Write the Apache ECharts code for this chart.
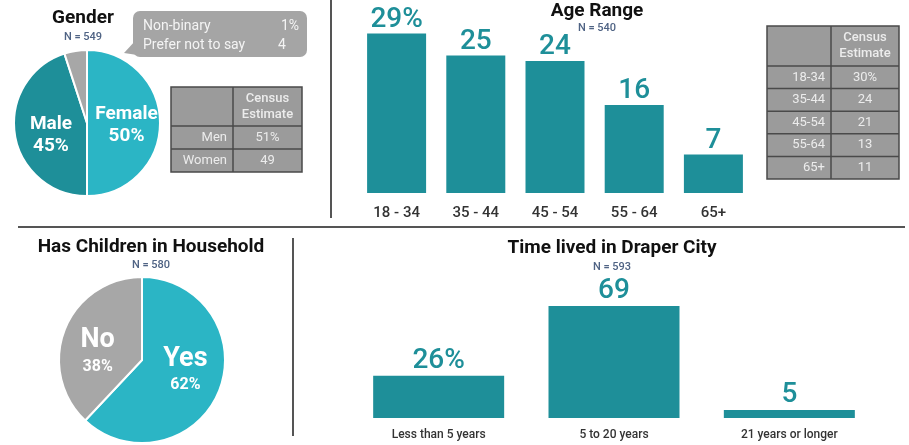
<!DOCTYPE html>
<html><head><meta charset="utf-8">
<script src="https://cdn.jsdelivr.net/npm/echarts@6/dist/echarts.min.js"></script>
<style>html,body{margin:0;padding:0;background:#fff}#c{width:909px;height:445px}</style>
</head><body><div id="c"></div>
<script>
// ---- data ----
const genderNames = ['Female', 'Male', 'Other'];
const genderValues = [50, 45, 5];
const genderOtherLabels = ['Non-binary', 'Prefer not to say'];
const genderOtherValues = ['1%', '4'];
const genderCensusRows = ['Men', 'Women'];
const genderCensusValues = ['51%', '49'];

const ageCategories = ['18 - 34', '35 - 44', '45 - 54', '55 - 64', '65+'];
const ageValues = [29, 25, 24, 16, 7];
const ageCensusRows = ['18-34', '35-44', '45-54', '55-64', '65+'];
const ageCensusValues = ['30%', '24', '21', '13', '11'];

const childNames = ['Yes', 'No'];
const childValues = [62, 38];

const timeCategories = ['Less than 5 years', '5 to 20 years', '21 years or longer'];
const timeValues = [26, 69, 5];

const titles = ['Gender', 'Age Range', 'Has Children in Household', 'Time lived in Draper City'];
const nLabels = ['N = 549', 'N = 540', 'N = 580', 'N = 593'];
const censusHeader = ['Census', 'Estimate'];

// ---- styles ----
const FONT = 'Roboto, "Noto Sans", sans-serif';
const TEAL = '#1e8f99';
const LIGHT = '#2bb5c5';
const GRAY = '#a7a7a7';
const NCOLOR = '#4f6384';

const chart = echarts.init(document.getElementById('c'), null, {renderer: 'canvas'});

function pctFirst(p) { return p.dataIndex === 0 ? p.value + '%' : String(p.value); }

function table(x, y, w1, w2, hh, rh, rows, vals) {
  const els = [];
  const H = hh + rh * rows.length;
  const stroke = '#4a4a4a';
  els.push({type: 'rect', shape: {x: x, y: y, width: w1 + w2, height: H},
    style: {fill: '#9b9b9b', stroke: stroke, lineWidth: 1.5}});
  els.push({type: 'line', shape: {x1: x + w1, y1: y, x2: x + w1, y2: y + H}, style: {stroke: stroke, lineWidth: 1.5}});
  for (let i = 0; i < rows.length; i++) {
    const ly = y + hh + rh * i;
    els.push({type: 'line', shape: {x1: x, y1: ly, x2: x + w1 + w2, y2: ly}, style: {stroke: stroke, lineWidth: 1.5}});
    const cy = ly + rh / 2;
    els.push({type: 'text', style: {text: rows[i], x: x + w1 - 6, y: cy, align: 'right', verticalAlign: 'middle',
      fill: '#ececec', font: '13px ' + FONT}});
    els.push({type: 'text', style: {text: vals[i], x: x + w1 + w2 / 2, y: cy, align: 'center', verticalAlign: 'middle',
      fill: '#ececec', font: '13px ' + FONT}});
  }
  els.push({type: 'text', style: {text: censusHeader.join('\n'), x: x + w1 + w2 / 2, y: y + hh / 2, align: 'center',
    verticalAlign: 'middle', lineHeight: 16, fill: '#ececec', font: '500 13px ' + FONT}});
  return els;
}

function titleEls(t, n, cx, ty, ny) {
  return [
    {type: 'text', style: {text: t, x: cx, y: ty, align: 'center', verticalAlign: 'middle', fill: '#111',
      font: 'bold 19px ' + FONT}},
    {type: 'text', style: {text: n, x: cx, y: ny, align: 'center', verticalAlign: 'middle', fill: NCOLOR,
      font: '500 11px ' + FONT}}
  ];
}

const graphics = [].concat(
  // dividers
  [{type: 'line', shape: {x1: 331, y1: 0, x2: 331, y2: 218}, style: {stroke: '#555', lineWidth: 2}},
   {type: 'line', shape: {x1: 18, y1: 227, x2: 905, y2: 227}, style: {stroke: '#555', lineWidth: 2}},
   {type: 'line', shape: {x1: 293, y1: 238, x2: 293, y2: 436}, style: {stroke: '#555', lineWidth: 2}}],
  titleEls(titles[0], nLabels[0], 83, 18, 37),
  titleEls(titles[1], nLabels[1], 597, 11, 28),
  titleEls(titles[2], nLabels[2], 151, 247, 265),
  titleEls(titles[3], nLabels[3], 612, 248, 267),
  // callout
  [{type: 'polygon', shape: {points: [[136, 40], [124, 53], [144, 56]]}, style: {fill: '#a5a5a5'}},
   {type: 'rect', shape: {x: 133, y: 11, width: 174, height: 46, r: 7}, style: {fill: '#a5a5a5'}},
   {type: 'text', style: {text: genderOtherLabels[0], x: 143, y: 26, verticalAlign: 'middle', fill: '#f4f4f4', font: '14px ' + FONT}},
   {type: 'text', style: {text: genderOtherLabels[1], x: 143, y: 45, verticalAlign: 'middle', fill: '#f4f4f4', font: '14px ' + FONT}},
   {type: 'text', style: {text: genderOtherValues[0], x: 299, y: 26, align: 'right', verticalAlign: 'middle', fill: '#f4f4f4', font: '14px ' + FONT}},
   {type: 'text', style: {text: genderOtherValues[1], x: 282, y: 45, align: 'center', verticalAlign: 'middle', fill: '#f4f4f4', font: '14px ' + FONT}}],
  table(171, 87, 62, 69, 39, 23, genderCensusRows, genderCensusValues),
  table(767, 26, 64, 68, 40, 22.6, ageCensusRows, ageCensusValues)
);

const option = {
  animation: false,
  textStyle: {fontFamily: FONT},
  grid: [
    {left: 357, top: 28, width: 396, height: 165},
    {left: 351, top: 288, width: 526, height: 130}
  ],
  xAxis: [
    {type: 'category', gridIndex: 0, data: ageCategories, axisLine: {show: false}, axisTick: {show: false},
      axisLabel: {margin: 13, fontSize: 15, color: '#333', fontWeight: 500, fontFamily: FONT}},
    {type: 'category', gridIndex: 1, data: timeCategories, axisLine: {show: false}, axisTick: {show: false},
      axisLabel: {margin: 11, fontSize: 12, color: '#333', fontWeight: 500, fontFamily: FONT}}
  ],
  yAxis: [
    {type: 'value', gridIndex: 0, min: 0, max: 30, show: false},
    {type: 'value', gridIndex: 1, min: 0, max: 80, show: false}
  ],
  series: [
    {type: 'bar', xAxisIndex: 0, yAxisIndex: 0, data: ageValues, barWidth: 59, itemStyle: {color: TEAL},
      label: {show: true, position: 'top', distance: 0, formatter: pctFirst, color: TEAL, fontSize: 28,
        fontWeight: 500, fontFamily: FONT}},
    {type: 'bar', xAxisIndex: 1, yAxisIndex: 1, data: timeValues, barWidth: 131, itemStyle: {color: TEAL},
      label: {show: true, position: 'top', distance: 1, formatter: pctFirst, color: TEAL, fontSize: 28,
        fontWeight: 500, fontFamily: FONT}},
    {type: 'pie', center: [87, 123], radius: 73, startAngle: 90, clockwise: true,
      itemStyle: {borderColor: '#fff', borderWidth: 2},
      data: genderNames.map((n, i) => ({name: n, value: genderValues[i],
        itemStyle: {color: [LIGHT, TEAL, GRAY][i]},
        label: {show: i < 2, offset: i === 1 ? [3, 6] : [0, 2]}})),
      label: {position: 'inside', formatter: p => p.name + '\n' + p.value + '%', color: '#fff', fontSize: 19,
        fontWeight: 'bold', lineHeight: 22, fontFamily: FONT},
      labelLine: {show: false}},
    {type: 'pie', center: [142, 360], radius: 83, startAngle: 90, clockwise: true,
      itemStyle: {borderColor: '#fff', borderWidth: 2},
      data: childNames.map((n, i) => ({name: n, value: childValues[i],
        itemStyle: {color: [LIGHT, GRAY][i]},
        label: {offset: i === 0 ? [2, -6] : [-3, 8]}})),
      label: {position: 'inside', formatter: p => '{a|' + p.name + '}\n{b|' + p.value + '%}', color: '#fff',
        rich: {a: {fontSize: 27, fontWeight: 'bold', color: '#fff', lineHeight: 30, fontFamily: FONT},
               b: {fontSize: 16, fontWeight: 'bold', color: '#fff', lineHeight: 22, fontFamily: FONT}}},
      labelLine: {show: false}}
  ],
  graphic: graphics
};
chart.setOption(option);
</script>
</body></html>
